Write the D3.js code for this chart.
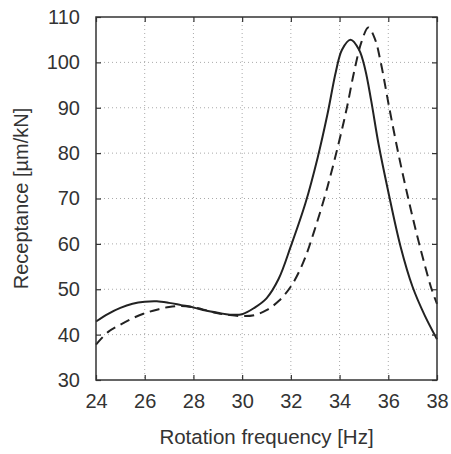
<!DOCTYPE html>
<html>
<head>
<meta charset="utf-8">
<title>Receptance vs rotation frequency</title>
<style>
  body { margin: 0; background: #fff; }
  text { font-family: "Liberation Sans", Arial, sans-serif; fill: #333; }
  .grid line { stroke: #aaa; stroke-width: 1; stroke-dasharray: 1,3; }
  .curve { fill: none; stroke: #222; stroke-width: 2; }
</style>
<script src="https://d3js.org/d3.v7.min.js"></script>
</head>
<body>
<script>
// solid curve
var freqA = [24, 24.5, 25, 25.5, 26, 26.5, 27, 27.5, 28, 28.5, 29, 29.5, 30, 30.5, 31, 31.5, 32, 32.6, 33.1, 33.5, 33.85, 34.1, 34.45, 34.8, 35.05, 35.3, 35.6, 36, 36.5, 37, 37.5, 38];
var recA  = [42.9, 44.6, 45.9, 46.8, 47.25, 47.35, 47.0, 46.5, 46.0, 45.3, 44.8, 44.4, 44.5, 45.9, 48.0, 52.3, 59.5, 69, 79, 88.5, 98, 102.8, 105, 102.8, 98.5, 91.5, 82, 71.5, 59.5, 50.5, 44.2, 39.0];
// dashed curve
var freqB = [24, 24.5, 25, 25.5, 26, 26.5, 27, 27.5, 28, 28.5, 29, 29.5, 30, 30.5, 31, 31.5, 32, 32.5, 33, 33.5, 34, 34.3, 34.6, 34.9, 35.18, 35.45, 35.69, 36.04, 36.41, 36.82, 37.27, 37.78, 38];
var recB  = [37.8, 40.6, 42.2, 43.6, 44.7, 45.5, 46.1, 46.3, 46.0, 45.4, 44.7, 44.3, 44.1, 44.3, 45.4, 47.4, 50.6, 55.8, 63.5, 72.5, 83, 90, 98, 104.5, 107.7, 105.2, 100, 90, 80, 70, 60, 50, 46.8];

var xTicks = [24, 26, 28, 30, 32, 34, 36, 38];
var yTicks = [30, 40, 50, 60, 70, 80, 90, 100, 110];

var W = 451, H = 454;
var m = {left: 96, top: 17, right: 14, bottom: 74};
var iw = W - m.left - m.right, ih = H - m.top - m.bottom;

var svg = d3.select("body").append("svg").attr("width", W).attr("height", H);
var g = svg.append("g").attr("transform", "translate(" + m.left + "," + m.top + ")");

var x = d3.scaleLinear().domain([24, 38]).range([0, iw]);
var y = d3.scaleLinear().domain([30, 110]).range([ih, 0]);

// grid
var grid = g.append("g").attr("class", "grid");
grid.selectAll(".gx").data(xTicks.slice(1, -1)).enter().append("line")
  .attr("x1", function(d) { return x(d); }).attr("x2", function(d) { return x(d); })
  .attr("y1", 0).attr("y2", ih);
grid.selectAll(".gy").data(yTicks.slice(1, -1)).enter().append("line")
  .attr("y1", function(d) { return y(d); }).attr("y2", function(d) { return y(d); })
  .attr("x1", 0).attr("x2", iw);

// curves
var line = d3.line().curve(d3.curveCatmullRom.alpha(0.5))
  .x(function(d) { return x(d[0]); })
  .y(function(d) { return y(d[1]); });

g.append("path").attr("class", "curve")
  .attr("d", line(d3.zip(freqA, recA)));
g.append("path").attr("class", "curve")
  .attr("stroke-dasharray", "10,6")
  .attr("d", line(d3.zip(freqB, recB)));

// axes with inward ticks on all sides
function styleAxis(sel) {
  sel.select(".domain").remove();
  sel.selectAll(".tick line").attr("stroke", "#333").attr("stroke-width", 1.2);
  sel.selectAll(".tick text").style("font-size", "20px").attr("fill", "#333");
}
var ax = g.append("g").attr("transform", "translate(0," + ih + ")")
  .call(d3.axisBottom(x).tickValues(xTicks).tickSizeInner(-5).tickPadding(14))
  .call(styleAxis);
ax.selectAll(".tick text").attr("dy", "0.71em");
g.append("g").call(d3.axisTop(x).tickValues(xTicks).tickSizeInner(-5).tickFormat(""))
  .call(styleAxis);
g.append("g")
  .call(d3.axisLeft(y).tickValues(yTicks).tickSizeInner(-5).tickPadding(16))
  .call(styleAxis);
g.append("g").attr("transform", "translate(" + iw + ",0)")
  .call(d3.axisRight(y).tickValues(yTicks).tickSizeInner(-5).tickFormat(""))
  .call(styleAxis);

// frame
g.append("rect").attr("width", iw).attr("height", ih)
  .attr("fill", "none").attr("stroke", "#333").attr("stroke-width", 1.5);

// axis titles
svg.append("text")
  .attr("x", m.left + iw / 2).attr("y", 444)
  .attr("text-anchor", "middle").style("font-size", "20.5px")
  .text("Rotation frequency [Hz]");
svg.append("text")
  .attr("transform", "translate(28," + (m.top + ih / 2) + ") rotate(-90)")
  .attr("text-anchor", "middle").style("font-size", "20px")
  .text("Receptance [µm/kN]");
</script>
</body>
</html>
